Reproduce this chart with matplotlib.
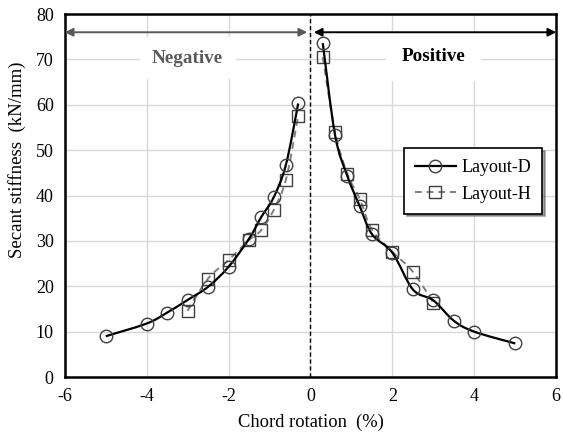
import numpy as np
import matplotlib
matplotlib.use('Agg')
import matplotlib.pyplot as plt
from matplotlib.path import Path
from matplotlib.patches import PathPatch
from matplotlib.lines import Line2D

plt.rcParams['font.family'] = 'Liberation Serif'
plt.rcParams['axes.unicode_minus'] = False

# Secant stiffness vs chord rotation, negative and positive loading branches
d_neg_x = [-5, -4, -3.5, -3, -2.5, -2, -1.5, -1.2, -0.9, -0.6, -0.3]
d_neg_y = [9.0, 11.8, 14.2, 17.0, 19.9, 24.3, 30.5, 35.3, 39.6, 46.8, 60.3]
d_pos_x = [0.3, 0.6, 0.9, 1.2, 1.5, 2, 2.5, 3, 3.5, 4, 5]
d_pos_y = [73.6, 53.3, 44.3, 37.7, 31.5, 27.4, 19.3, 16.9, 12.4, 10.0, 7.4]

h_neg_x = [-3, -2.5, -2, -1.5, -1.2, -0.9, -0.6, -0.3]
h_neg_y = [14.6, 21.7, 25.8, 30.2, 32.4, 36.8, 43.5, 57.6]
h_pos_x = [0.3, 0.6, 0.9, 1.2, 1.5, 2, 2.5, 3]
h_pos_y = [70.5, 54.0, 44.8, 39.3, 32.5, 27.6, 23.2, 16.4]

x_ticks = [-6, -4, -2, 0, 2, 4, 6]
y_ticks = [0, 10, 20, 30, 40, 50, 60, 70, 80]


def smooth_path(xs, ys):
    # Catmull-Rom style cubic Bezier through the points (spreadsheet "smoothed line")
    p = np.column_stack([xs, ys]).astype(float)
    n = len(p)
    verts = [p[0]]
    codes = [Path.MOVETO]
    for i in range(n - 1):
        p0 = p[i - 1] if i > 0 else p[i]
        p3 = p[i + 2] if i + 2 < n else p[i + 1]
        c1 = p[i] + (p[i + 1] - p0) / 6
        c2 = p[i + 1] - (p3 - p[i]) / 6
        verts += [c1, c2, p[i + 1]]
        codes += [Path.CURVE4] * 3
    return Path(verts, codes)


fig = plt.figure(figsize=(5.63, 4.41), dpi=100)
ax = fig.add_axes([0.115, 0.145, 0.873, 0.823])

ax.set_xlim(-6, 6)
ax.set_ylim(0, 80)
ax.set_xticks(x_ticks)
ax.set_yticks(y_ticks)
ax.tick_params(length=0, labelsize=13, pad=8)
ax.grid(True, color='#d9d9d9', linewidth=1)
ax.set_axisbelow(True)
for s in ax.spines.values():
    s.set_linewidth(1.8)
    s.set_color('black')

# zero rotation divider
ax.axvline(0, color='black', linewidth=1, linestyle=(0, (3, 2)), zorder=2)

line_d = dict(color='black', linewidth=1.6)
line_h = dict(color='#7f7f7f', linewidth=1.4, linestyle=(0, (3.5, 2.5)))
mk = dict(linestyle='none', markerfacecolor='none', markeredgecolor='#404040',
          markeredgewidth=1.0, markersize=9)

for xs, ys in [(h_neg_x, h_neg_y), (h_pos_x, h_pos_y)]:
    ax.add_patch(PathPatch(smooth_path(xs, ys), fill=False, zorder=3, **line_h))
    ax.plot(xs, ys, marker='s', zorder=4, **dict(mk, markersize=8.5))
for xs, ys in [(d_neg_x, d_neg_y), (d_pos_x, d_pos_y)]:
    ax.add_patch(PathPatch(smooth_path(xs, ys), fill=False, zorder=5, **line_d))
    ax.plot(xs, ys, marker='o', zorder=6, **mk)

# loading direction arrows
ax.annotate('', xy=(-6, 76), xytext=(-0.08, 76),
            arrowprops=dict(arrowstyle='<|-|>', color='#595959', lw=1.4,
                            shrinkA=0, shrinkB=0, mutation_scale=12))
ax.annotate('', xy=(0.08, 76), xytext=(6, 76),
            arrowprops=dict(arrowstyle='<|-|>', color='black', lw=1.4,
                            shrinkA=0, shrinkB=0, mutation_scale=12))
ax.text(-3, 70.3, 'Negative', ha='center', va='center', fontsize=13.8,
        fontweight='bold', color='#595959', zorder=2.5,
        bbox=dict(facecolor='white', edgecolor='none', pad=9))
ax.text(3, 70.6, 'Positive', ha='center', va='center', fontsize=13.8,
        fontweight='bold', color='black', zorder=2.5,
        bbox=dict(facecolor='white', edgecolor='none', pad=11))

ax.set_xlabel('Chord rotation  (%)', fontsize=13.3, labelpad=6)
ax.set_ylabel('Secant stiffness  (kN/mm)', fontsize=13.5, labelpad=6)
ax.yaxis.set_label_coords(-0.078, 0.6)

handles = [
    Line2D([], [], marker='o', **line_d, markerfacecolor='none',
           markeredgecolor='#404040', markersize=9),
    Line2D([], [], marker='s', **line_h, markerfacecolor='none',
           markeredgecolor='#404040', markersize=8.5),
]
leg = ax.legend(handles, ['Layout-D', 'Layout-H'], loc='upper left',
                bbox_to_anchor=(0.69, 0.631), borderaxespad=0, fontsize=13,
                frameon=True, fancybox=False, shadow=True, edgecolor='black',
                framealpha=1, handlelength=2.3, labelspacing=0.55,
                borderpad=0.6, handletextpad=0.3)
leg.get_frame().set_linewidth(1.2)

fig.savefig('out.png', dpi=100)
